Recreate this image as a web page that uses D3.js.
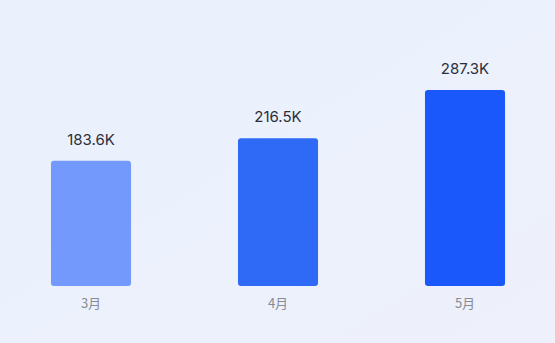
<!DOCTYPE html>
<meta charset="utf-8">
<script src="https://d3js.org/d3.v7.min.js"></script>
<style>
  body { margin: 0; background: #ebf1fc; }
</style>
<div id="chart"></div>
<script>
    // data
    const months = ["3月", "4月", "5月"];
    const values = [183.6, 216.5, 287.3];
    const barColors = ["#7299fb", "#2f6af6", "#1a58fb"];

    const width = 555, height = 343;
    const baseY = 286, topY = 90;

    const svg = d3.select("#chart")
      .append("svg")
        .attr("width", width)
        .attr("height", height);

    // soft background wash
    const grad = svg.append("defs").append("linearGradient")
        .attr("id", "bg").attr("x1", 0).attr("y1", 0).attr("x2", 1).attr("y2", 1);
    grad.append("stop").attr("offset", "0%").attr("stop-color", "#eaf1fc");
    grad.append("stop").attr("offset", "60%").attr("stop-color", "#ecf1fc");
    grad.append("stop").attr("offset", "100%").attr("stop-color", "#eef0fb");
    svg.append("rect").attr("width", width).attr("height", height).attr("fill", "url(#bg)");

    const x = d3.scaleBand()
        .domain(months)
        .range([-2.5, 558.5])
        .paddingInner(0.572)
        .paddingOuter(0.286);

    const y = d3.scaleLinear()
        .domain([0, d3.max(values)])
        .range([baseY, topY]);

    const data = months.map((m, i) => ({month: m, value: values[i], color: barColors[i]}));

    svg.selectAll("rect.bar")
      .data(data)
      .join("rect")
        .attr("class", "bar")
        .attr("x", d => x(d.month))
        .attr("y", d => y(d.value))
        .attr("width", x.bandwidth())
        .attr("height", d => baseY - y(d.value))
        .attr("rx", 3)
        .attr("fill", d => d.color);

    // value labels above bars
    svg.selectAll("text.val")
      .data(data)
      .join("text")
        .attr("class", "val")
        .attr("x", d => x(d.month) + x.bandwidth() / 2)
        .attr("y", d => y(d.value) - 16)
        .attr("text-anchor", "middle")
        .style("font-family", "Inter, 'Noto Sans', sans-serif")
        .style("font-size", "15px")
        .style("fill", "#2a2f3a")
        .text(d => d.value.toFixed(1) + "K");

    // month labels
    svg.selectAll("text.month")
      .data(data)
      .join("text")
        .attr("class", "month")
        .attr("x", d => x(d.month) + x.bandwidth() / 2)
        .attr("y", baseY + 22)
        .attr("text-anchor", "middle")
        .style("font-family", "'Noto Sans CJK SC', 'Noto Sans', sans-serif")
        .style("font-size", "13px")
        .style("fill", "#868b95")
        .text(d => d.month);
</script>
